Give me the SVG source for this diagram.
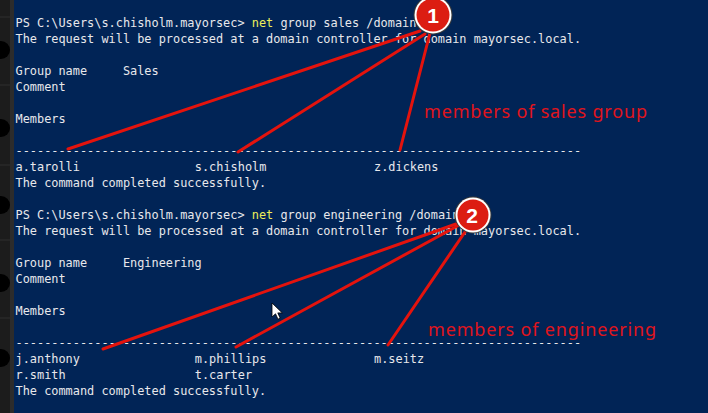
<svg xmlns="http://www.w3.org/2000/svg" width="708" height="413" viewBox="0 0 708 413">
<style>
.t{font-family:"DejaVu Sans Mono","Liberation Mono",monospace;font-size:11.9px;fill:#e8e8ec;white-space:pre}
.y{fill:#eeee5a}
.ln{stroke:#e4130d;stroke-width:3;stroke-linecap:round;fill:none}
.lbl{font-family:"Noto Sans","Open Sans",sans-serif;font-size:18px;fill:#e0141c}
.num{font-family:"Liberation Sans","Noto Sans",sans-serif;font-size:21px;font-weight:bold;fill:#ffffff}
.sb{fill:#000000}
</style>
<rect x="0" y="0" width="708" height="413" fill="#012456"/>
<g id="sidebar">
<rect x="0" y="0" width="10" height="413" fill="#1c1c1c"/>
<rect x="10" y="0" width="4" height="413" fill="#2c2c2c"/>
<g stroke="#2e2e2e" stroke-width="1">
<line x1="0" y1="17" x2="10" y2="17"/>
<line x1="0" y1="85" x2="10" y2="85"/>
<line x1="0" y1="165" x2="10" y2="165"/>
<line x1="0" y1="240" x2="10" y2="240"/>
<line x1="0" y1="318" x2="10" y2="318"/>
</g>
<circle class="sb" cx="1" cy="50" r="9"/>
<circle class="sb" cx="1" cy="128" r="9"/>
<circle class="sb" cx="1" cy="205" r="9"/>
<circle class="sb" cx="1" cy="283" r="9"/>
<circle class="sb" cx="1" cy="358" r="9"/>
</g>
<g id="console1">
<text class="t" x="15.5" y="27">PS C:\Users\s.chisholm.mayorsec&gt; <tspan class="y">net</tspan> group sales /domain</text>
<text class="t" x="15.5" y="43">The request will be processed at a domain controller for domain mayorsec.local.</text>
<text class="t" x="15.5" y="75">Group name     Sales</text>
<text class="t" x="15.5" y="91">Comment</text>
<text class="t" x="15.5" y="123">Members</text>
<text class="t" x="15.5" y="155">-------------------------------------------------------------------------------</text>
<text class="t" x="15.5" y="171">a.tarolli</text>
<text class="t" x="194.8" y="171">s.chisholm</text>
<text class="t" x="374" y="171">z.dickens</text>
<text class="t" x="15.5" y="187">The command completed successfully.</text>
</g>
<g id="console2">
<text class="t" x="15.5" y="219">PS C:\Users\s.chisholm.mayorsec&gt; <tspan class="y">net</tspan> group engineering /domain</text>
<text class="t" x="15.5" y="235">The request will be processed at a domain controller for domain mayorsec.local.</text>
<text class="t" x="15.5" y="267">Group name     Engineering</text>
<text class="t" x="15.5" y="283">Comment</text>
<text class="t" x="15.5" y="315">Members</text>
<text class="t" x="15.5" y="347">-------------------------------------------------------------------------------</text>
<text class="t" x="15.5" y="363">j.anthony</text>
<text class="t" x="194.8" y="363">m.phillips</text>
<text class="t" x="374" y="363">m.seitz</text>
<text class="t" x="15.5" y="379">r.smith</text>
<text class="t" x="194.8" y="379">t.carter</text>
<text class="t" x="15.5" y="395">The command completed successfully.</text>
</g>
<g id="connectors">
<line class="ln" x1="420" y1="31" x2="68" y2="149"/>
<line class="ln" x1="425" y1="34" x2="238" y2="152"/>
<line class="ln" x1="430" y1="33" x2="400" y2="150"/>
<line class="ln" x1="456" y1="224" x2="103" y2="349"/>
<line class="ln" x1="461" y1="224" x2="236" y2="347"/>
<line class="ln" x1="467" y1="229" x2="388" y2="345"/>
</g>
<g id="badge1">
<circle cx="433" cy="15" r="19.5" fill="#3a3a3a"/>
<circle cx="433" cy="15" r="18.5" fill="#ffffff"/>
<circle cx="433" cy="15" r="16.5" fill="#dc1d12"/>
<text class="num" x="433" y="22.5" text-anchor="middle">1</text>
</g>
<g id="badge2">
<circle cx="473" cy="215" r="18.5" fill="#3a3a3a"/>
<circle cx="473" cy="215" r="17.5" fill="#ffffff"/>
<circle cx="473" cy="215" r="15.5" fill="#dc1d12"/>
<text class="num" x="472" y="222.5" text-anchor="middle">2</text>
</g>
<g id="label1">
<text class="lbl" x="424" y="118" textLength="223">members of sales group</text>
</g>
<g id="label2">
<text class="lbl" x="428" y="336" textLength="228">members of engineering</text>
</g>
<path id="cursor" d="M272,303 L272,317 L275.5,313.8 L278,319.2 L280.2,318.2 L277.8,312.9 L282.3,312.9 Z" fill="#ffffff" stroke="#000000" stroke-width="0.8"/>
</svg>
